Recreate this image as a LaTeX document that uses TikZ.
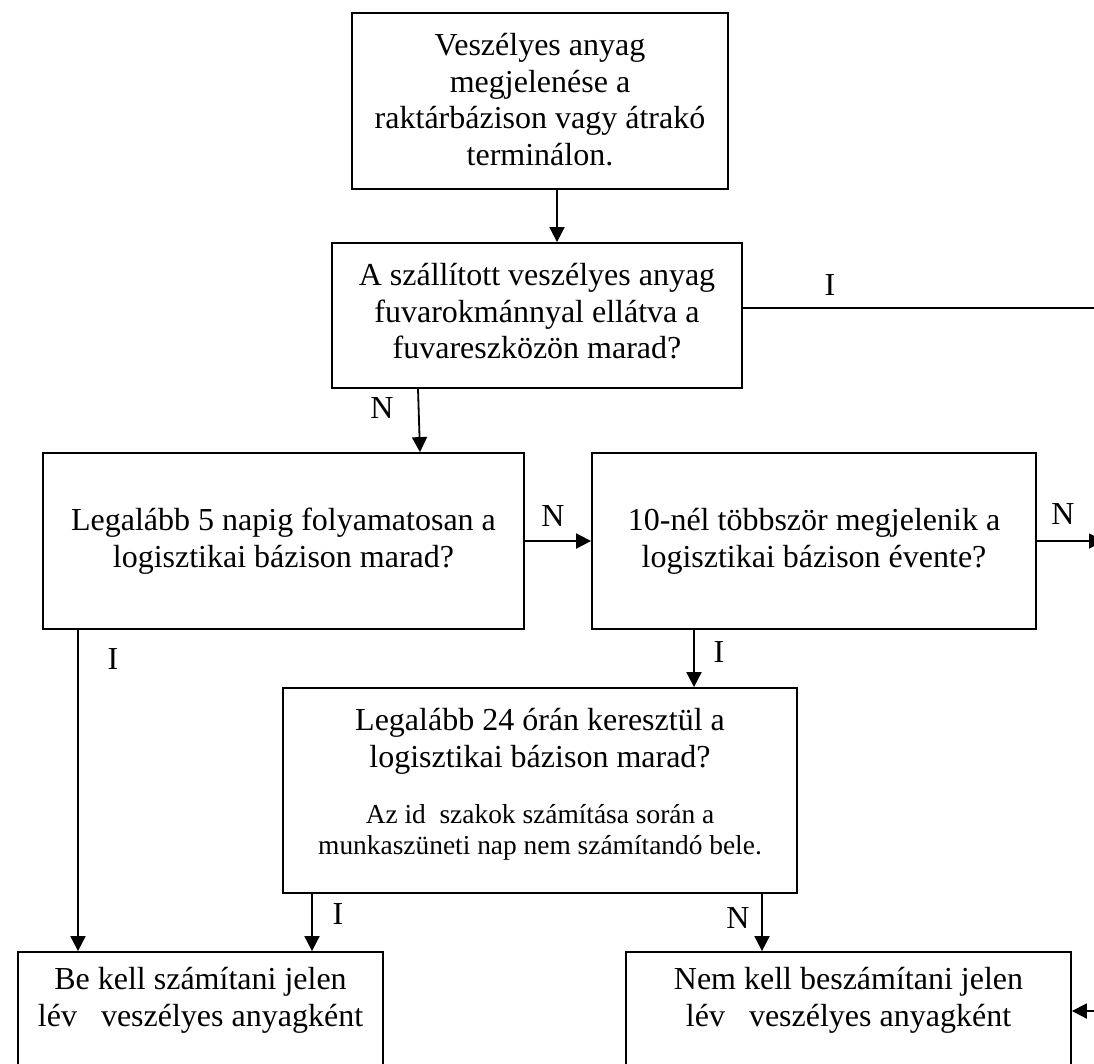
\documentclass[tikz,border=0pt]{standalone}
\usepackage{fontspec}
\setmainfont{Liberation Serif}
\usetikzlibrary{arrows.meta,calc}
\newcommand{\firstln}{\rule{0pt}{30pt}}
\newcommand{\firstsm}{\rule{0pt}{26pt}}
\begin{document}
\begin{tikzpicture}[x=1pt,y=-1pt,
  box/.style={draw,line width=1.8pt,inner sep=0pt,rectangle},
  txt/.style={inner sep=0pt,align=center,anchor=north,font=\fontsize{32}{36.8}\selectfont},
  smalltxt/.style={inner sep=0pt,align=center,anchor=north,font=\fontsize{27.4}{31.2}\selectfont},
  lbl/.style={inner sep=0pt,font=\fontsize{32}{36.8}\selectfont},
  conn/.style={line width=1.8pt},
  arr/.style={line width=1.8pt,-{Triangle[length=15pt,width=15pt]}}]
\useasboundingbox (0,0) rectangle (1094,1063);
\fill[white] (0,0) rectangle (1094,1063);
% boxes
\node[box,minimum width=376pt,minimum height=176.3pt] (b1) at (540,100.85) {};
\node[box,minimum width=410pt,minimum height=145pt] (b2) at (537,315.5) {};
\node[box,minimum width=481pt,minimum height=176pt] (b3) at (283.5,541) {};
\node[box,minimum width=444pt,minimum height=176pt] (b4) at (814,541) {};
\node[box,minimum width=514pt,minimum height=205pt] (b6) at (540,790.5) {};
\node[box,minimum width=365pt,minimum height=128pt] (b5) at (200.5,1016) {};
\node[box,minimum width=445pt,minimum height=128pt] (b7) at (848.5,1016) {};
% texts
\node[txt] (t1) at (540,25) {\firstln Veszélyes anyag\\megjelenése a\\raktárbázison vagy átrakó\\terminálon.};
\node[txt] (t2) at (537,255) {\firstln A szállított veszélyes anyag\\fuvarokmánnyal ellátva a\\fuvareszközön marad?};
\node[txt] (t3) at (283.5,500) {\firstln Legalább 5 napig folyamatosan a\\logisztikai bázison marad?};
\node[txt] (t4) at (814,500) {\firstln 10-nél többször megjelenik a\\logisztikai bázison évente?};
\node[txt] (t6) at (540,700) {\firstln Legalább 24 órán keresztül a\\logisztikai bázison marad?};
\node[smalltxt] (t6s) at (540,797) {\firstsm Az id\hspace{13.7pt}szakok számítása során a\\munkaszüneti nap nem számítandó bele.};
\node[txt] (t5) at (200.5,959) {\firstln Be kell számítani jelen\\lév\hspace{16pt} veszélyes anyagként};
\node[txt] (t7) at (848.5,959) {\firstln Nem kell beszámítani jelen\\lév\hspace{16pt} veszélyes anyagként};
% free ends
\coordinate (e1) at (1094,308);
\coordinate (e2) at (1104,541);
\coordinate (e3) at (1100,1011);
% connectors
\draw[arr] (557,0 |- b1.south) -- (557,0 |- b2.north);
\draw[conn] (b2.east |- e1) -- (e1);
\draw[arr] (418,0 |- b2.south) -- (420,0 |- b3.north);
\draw[arr] (b3.east) -- (b4.west);
\draw[arr] (b4.east) -- (e2);
\draw[arr] (78,0 |- b3.south) -- (78,0 |- b5.north);
\draw[arr] (694,0 |- b4.south) -- (694,0 |- b6.north);
\draw[arr] (312,0 |- b6.south) -- (312,0 |- b5.north);
\draw[arr] (762,0 |- b6.south) -- (762,0 |- b7.north);
\draw[arr] (e3) -- (b7.east |- e3);
% labels
\node[lbl] (lI1) at (830,285) {I};
\node[lbl] (lN1) at (382,408) {N};
\node[lbl] (lN2) at (553,516) {N};
\node[lbl] (lN3) at (1063,514) {N};
\node[lbl] (lI2) at (113,659) {I};
\node[lbl] (lI3) at (719,652) {I};
\node[lbl] (lI4) at (338,914) {I};
\node[lbl] (lN4) at (738,918) {N};
\end{tikzpicture}
\end{document}
